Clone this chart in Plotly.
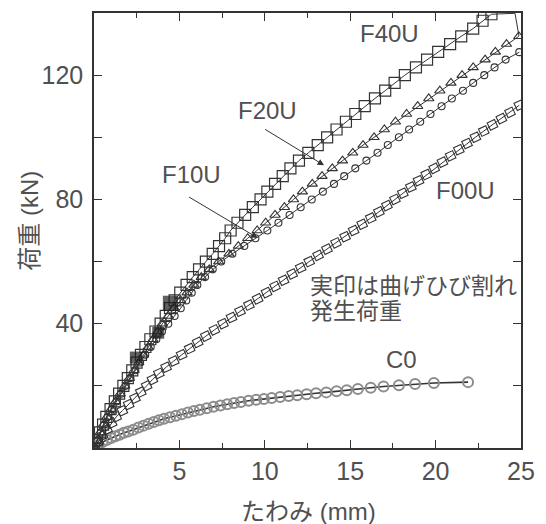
import plotly.graph_objects as go

# ---------------- data ----------------
f40u_x = [0, 0.17, 0.35, 0.53, 0.72, 0.97, 1.22, 1.47, 1.72, 1.98, 2.24, 2.49, 2.75, 3.01,
          3.30, 3.60, 3.90, 4.20, 4.45, 4.72, 5.05, 5.42, 5.78, 6.15, 6.55, 6.95, 7.32, 7.68,
          8.0, 8.4, 8.85, 9.3, 9.75, 10.15, 10.6, 11.05, 11.5, 12.0, 12.55, 13.1, 13.65, 14.2,
          14.75, 15.3, 15.85, 16.45, 17.05, 17.6, 18.2, 18.85, 19.5, 20.15, 20.85, 21.5, 22.2,
          22.75, 23.27]
f40u_y = [0, 2.5, 5, 7.5, 10, 12.5, 15, 17.5, 20, 22.5, 25, 27.5, 30, 32.5, 35, 37.5, 40, 42.5,
          45, 47.5, 50, 52.5, 55, 57.5, 60, 62.5, 65, 67.5, 70, 72.5, 75, 77.5, 80, 82.5, 85, 87.5,
          90, 92.5, 95, 97.5, 100, 102.5, 105, 107.5, 110, 112.5, 115, 117.5, 120, 122.5, 125,
          127.5, 130, 132.5, 135, 137.5, 139.6]

f40u_tail_x = [23.27, 24.65, 24.88]
f40u_tail_y = [139.6, 139.9, 132.6]

f20u_x = [0, 0.18, 0.36, 0.55, 0.75, 1.0, 1.27, 1.53, 1.8, 2.07, 2.35, 2.62, 2.9, 3.17, 3.45,
          3.72, 4.0, 4.35, 4.7, 5.07, 5.45, 5.85, 6.28, 6.75, 7.3, 7.9, 8.45, 9.0, 9.55, 10.05,
          10.6, 11.15, 11.68, 12.2, 12.78, 13.35, 13.95, 14.55, 15.15, 15.75, 16.4, 17.0, 17.65,
          18.3, 18.95, 19.6, 20.25, 20.9, 21.55, 22.2, 22.9, 23.5, 24.15, 24.87]
f20u_y = [0, 2.5, 5, 7.5, 10, 12.5, 15, 17.5, 20, 22.5, 25, 27.5, 30, 32.5, 35, 37.5, 40, 42.5,
          45, 47.5, 50, 52.5, 55, 57.5, 60, 62.5, 65, 67.5, 70, 72.5, 75, 77.5, 80, 82.5, 85, 87.5,
          90, 92.5, 95, 97.5, 100, 102.5, 105, 107.5, 110, 112.5, 115, 117.5, 120, 122.5, 125,
          127.5, 130, 132.5]

f10u_x = [0, 0.19, 0.39, 0.59, 0.8, 1.05, 1.32, 1.58, 1.85, 2.13, 2.42, 2.7, 3.0, 3.32, 3.65,
          3.98, 4.35, 4.72, 5.08, 5.4, 5.72, 6.05, 6.5, 6.95, 7.45, 8.1, 8.8, 9.45, 10.15, 10.8,
          11.45, 12.1, 12.75, 13.4, 14.05, 14.65, 15.3, 15.95, 16.6, 17.2, 17.85, 18.45, 19.1,
          19.7, 20.35, 20.95, 21.6, 22.2, 22.85, 23.45, 24.1, 24.9]
f10u_y = [0, 2.5, 5, 7.5, 10, 12.5, 15, 17.5, 20, 22.5, 25, 27.5, 30, 32.5, 35, 37.5, 40, 42.5,
          45, 47.5, 50, 52.5, 55, 57.5, 60, 62.5, 65, 67.5, 70, 72.5, 75, 77.5, 80, 82.5, 85, 87.5,
          90, 92.5, 95, 97.5, 100, 102.5, 105, 107.5, 110, 112.5, 115, 117.5, 120, 122.5, 125,
          127.4]

f00u_x = [0, 0.25, 0.5, 0.76, 1.03, 1.3, 1.66, 2.03, 2.4, 2.74, 3.08, 3.42, 3.8, 4.22, 4.67,
          5.13, 5.6, 6.07, 6.55, 7.05, 7.55, 8.05, 8.55, 9.07, 9.58, 10.1, 10.6, 11.1, 11.6, 12.1,
          12.6, 13.12, 13.64, 14.17, 14.7, 15.2, 15.7, 16.2, 16.68, 17.15, 17.62, 18.08, 18.55,
          19.0, 19.45, 19.92, 20.4, 20.88, 21.36, 21.84, 22.33, 22.82, 23.33, 23.85, 24.36, 24.9]
f00u_y = [0, 2, 4, 6, 8, 10, 12, 14, 16, 18, 20, 22, 24, 26, 28, 30, 32, 34, 36, 38, 40, 42, 44,
          46, 48, 50, 52, 54, 56, 58, 60, 62, 64, 66, 68, 70, 72, 74, 76, 78, 80, 82, 84, 86, 88,
          90, 92, 94, 96, 98, 100, 102, 104, 106, 108, 110.3]

c0_x = [0, 0.25, 0.5, 0.75, 1.0, 1.25, 1.5, 1.75, 2.0, 2.3, 2.6, 2.9, 3.2, 3.5, 3.8, 4.1, 4.45,
        4.8, 5.15, 5.5, 5.85, 6.2, 6.6, 7.0, 7.4, 7.8, 8.2, 8.6, 9.05, 9.5, 9.95, 10.4, 10.9,
        11.4, 11.9, 12.45, 13.0, 13.6, 14.2, 14.8, 15.45, 16.2, 16.95, 17.85, 18.8, 19.9, 21.9]
c0_y = [0, 1.0, 1.9, 2.6, 3.2, 3.8, 4.3, 4.9, 5.3, 5.9, 6.6, 7.2, 7.8, 8.4, 8.9, 9.4, 9.9,
        10.4, 10.9, 11.4, 11.9, 12.3, 12.8, 13.3, 13.7, 14.1, 14.5, 14.8, 15.2, 15.5, 15.8, 16.1,
        16.4, 16.7, 17.0, 17.3, 17.6, 17.9, 18.3, 18.6, 19.0, 19.4, 19.8, 20.2, 20.6, 20.9, 21.2]

crack_x = [2.45, 3.76, 4.47]
crack_y = [29.1, 37.1, 46.6]

x_ticks = [0, 5, 10, 15, 20, 25]
x_ticktext = ["", "5", "10", "15", "20", "25"]
y_ticks = [40, 80, 120]

INK = "#333333"
TXT = "#505050"
FONT = "Arial, Liberation Sans, Noto Sans CJK JP, sans-serif"

fig = go.Figure()

fig.add_trace(go.Scatter(x=c0_x, y=c0_y, mode="lines+markers",
                         line=dict(color=INK, width=1.6),
                         marker=dict(symbol="circle-open", size=10, color="#8c8c8c",
                                     line=dict(width=2, color="#8c8c8c"))))
fig.add_trace(go.Scatter(x=f00u_x, y=f00u_y, mode="lines+markers",
                         line=dict(color=INK, width=1),
                         marker=dict(symbol="square-open", size=8, angle=-25, color=INK,
                                     line=dict(width=1.1, color=INK))))
fig.add_trace(go.Scatter(x=f10u_x, y=f10u_y, mode="lines+markers",
                         line=dict(color=INK, width=1),
                         marker=dict(symbol="circle-open", size=7, color=INK,
                                     line=dict(width=1.1, color=INK))))
fig.add_trace(go.Scatter(x=f20u_x, y=f20u_y, mode="lines+markers",
                         line=dict(color=INK, width=1),
                         marker=dict(symbol="triangle-up-open", size=9, color=INK,
                                     line=dict(width=1.1, color=INK))))
fig.add_trace(go.Scatter(x=f40u_x, y=f40u_y, mode="lines+markers",
                         line=dict(color=INK, width=1),
                         marker=dict(symbol="square-open", size=11, color=INK,
                                     line=dict(width=1.2, color=INK))))
fig.add_trace(go.Scatter(x=f40u_tail_x, y=f40u_tail_y, mode="lines",
                         line=dict(color=INK, width=1), cliponaxis=False))
fig.add_trace(go.Scatter(x=crack_x, y=crack_y, mode="markers",
                         marker=dict(symbol="square", size=[12, 12, 15], color="#1e1e1e",
                                     line=dict(width=0))))

axis_common = dict(showline=True, linecolor=INK, linewidth=1.5, mirror="ticks",
                   ticks="inside", ticklen=8, tickwidth=1, tickcolor=INK,
                   showgrid=False, zeroline=False,
                   tickfont=dict(family=FONT, size=25, color=TXT))

fig.update_layout(
    width=546, height=524,
    margin=dict(l=94, r=14, t=11, b=76),
    paper_bgcolor="white", plot_bgcolor="white",
    showlegend=False,
    xaxis=dict(range=[0, 25], tickvals=x_ticks, ticktext=x_ticktext,
               minor=dict(ticks="inside", ticklen=5, dtick=2.5, tickcolor=INK),
               **axis_common),
    yaxis=dict(range=[0, 140], tickvals=y_ticks, ticklabelstandoff=4,
               minor=dict(ticks="inside", ticklen=8, tickvals=[20, 60, 100], tickcolor=INK),
               **axis_common),
)

def txt(x, y, s, size=24, xanchor="center"):
    fig.add_annotation(x=x, y=y, xref="x", yref="y",
                       text=s, showarrow=False, xanchor=xanchor, yanchor="middle",
                       font=dict(family=FONT, size=size, color=TXT))

# px -> data helpers for label placement
def dx(px): return (px - 94) / 438 * 25
def dy(py): return (448 - py) / 437 * 140

txt(dx(397), dy(32), "F40U")
txt(dx(272), dy(109), "F20U")
txt(dx(194), dy(173), "F10U")
txt(dx(475), dy(189), "F00U")
txt(dx(409), dy(359), "C0")
txt(dx(314), dy(285), "実印は曲げひび割れ", size=23, xanchor="left")
txt(dx(314), dy(310), "発生荷重", size=23, xanchor="left")
txt(dx(80), dy(471), "0", size=25)

# arrows
fig.add_annotation(x=dx(330), y=dy(164), ax=dx(268), ay=dy(127), axref="x", ayref="y",
                   xref="x", yref="y", text="", showarrow=True, arrowhead=2,
                   arrowsize=1.3, arrowwidth=1, arrowcolor=INK)
fig.add_annotation(x=dx(262), y=dy(237), ax=dx(190), ay=dy(195), axref="x", ayref="y",
                   xref="x", yref="y", text="", showarrow=True, arrowhead=2,
                   arrowsize=1.3, arrowwidth=1, arrowcolor=INK)

# axis titles
fig.add_annotation(x=(27 - 94) / 438, y=(448 - 220) / 437, xref="paper", yref="paper",
                   text="荷重 (kN)", textangle=-90, showarrow=False,
                   xanchor="center", yanchor="middle",
                   font=dict(family=FONT, size=24, color=TXT))
fig.add_annotation(x=(314 - 94) / 438, y=(448 - 512) / 437, xref="paper", yref="paper",
                   text="たわみ (mm)", showarrow=False,
                   xanchor="center", yanchor="middle",
                   font=dict(family=FONT, size=24, color=TXT))

fig.write_html("out.html")
